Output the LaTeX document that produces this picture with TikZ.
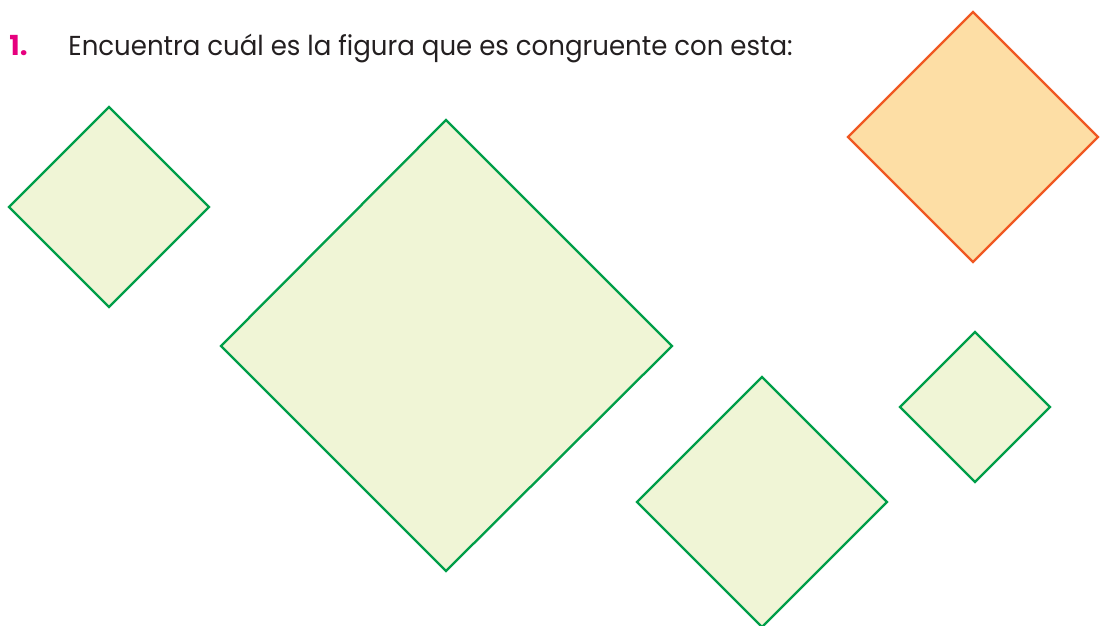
\documentclass[tikz,border=0pt]{standalone}
\usepackage{fontspec}
\setmainfont{Poppins}
\newfontfamily\narrowfont{Poppins}[FakeStretch=0.95]
\usepackage{tikz}

\definecolor{numpink}{RGB}{230,0,126}
\definecolor{textgray}{RGB}{35,31,32}
\definecolor{sqgreen}{RGB}{0,158,73}
\definecolor{sqgreenfill}{RGB}{240,245,214}
\definecolor{sqorange}{RGB}{240,88,34}
\definecolor{sqorangefill}{RGB}{253,222,165}

\tikzset{
    greensq/.style = {draw = sqgreen, fill = sqgreenfill, line width = 1.15pt, line join = miter},
    orangesq/.style = {draw = sqorange, fill = sqorangefill, line width = 1.15pt, line join = miter},
}

\begin{document}
\begin{tikzpicture}[x = 0.5pt, y = -0.5pt]

    % Frame
    \useasboundingbox (0,0) rectangle (1100,626);

    % Instruction
    \node [anchor = base west, inner sep = 0pt, text = numpink, font = \fontsize{13.8}{16}\selectfont\bfseries] (num) at (9,56) {1.};
    \node [anchor = base west, inner sep = 0pt, text = textgray, font = \fontsize{13.7}{16}\selectfont\narrowfont] (question) at (68,56) {Encuentra cuál es la figura que es congruente con esta:};

    % Model square
    \draw [orangesq] (973,12) -- (848,137) -- (973,262) -- (1098,137) -- cycle;

    % Options
    % Small, left
    \draw [greensq] (109,107) -- (9,207) -- (109,307) -- (209,207) -- cycle;
    % Big
    \draw [greensq] (446,120) -- (221,346) -- (446,571) -- (672,346) -- cycle;
    % Congruent one
    \draw [greensq] (762,377) -- (637,502) -- (762,627) -- (887,502) -- cycle;
    % Small, right
    \draw [greensq] (975,332) -- (900,407) -- (975,482) -- (1050,407) -- cycle;

\end{tikzpicture}
\end{document}
